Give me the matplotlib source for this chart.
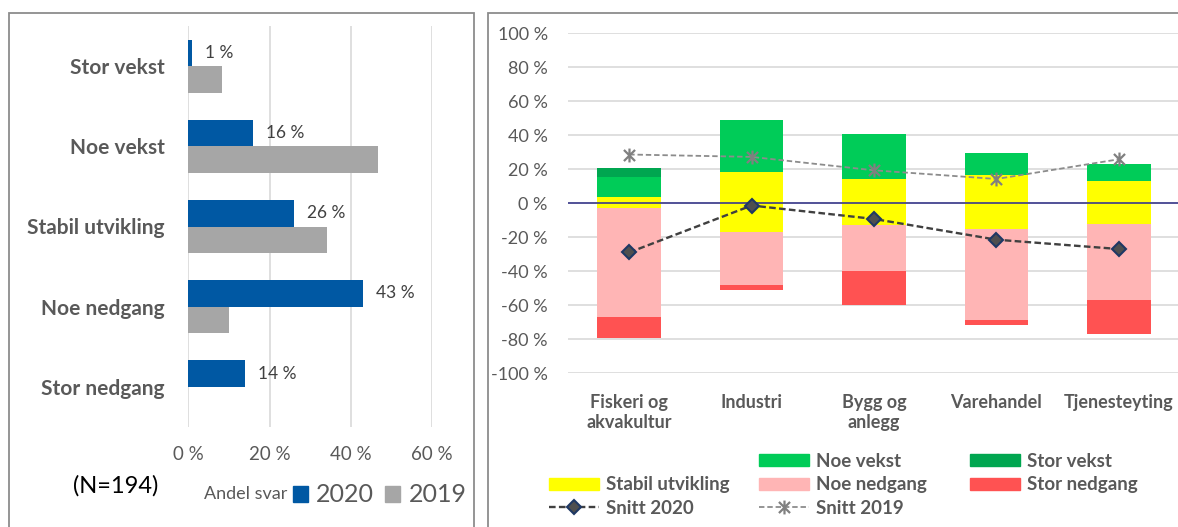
import matplotlib
matplotlib.use("Agg")
import numpy as np
from matplotlib import pyplot as plt
from matplotlib.patches import Rectangle, Patch
from matplotlib.lines import Line2D
from matplotlib.path import Path

plt.rcParams['font.family'] = ['Lato', 'DejaVu Sans']

# left panel: share of answers, 2020 vs 2019
answers = ['Stor vekst', 'Noe vekst', 'Stabil utvikling', 'Noe nedgang', 'Stor nedgang']
share_2020 = [1, 16, 26, 43, 14]
share_2019 = [8.4, 46.8, 34.2, 10.1, 0]
share_ticks = [0, 20, 40, 60]

# right panel: by industry (percent)
sectors = ['Fiskeri og\nakvakultur', 'Industri', 'Bygg og\nanlegg', 'Varehandel', 'Tjenesteyting']
stor_vekst = [5.3, 0, 0, 0, 0]
noe_vekst = [11.4, 30.4, 26.4, 12.4, 10.2]
stabil_over = [3.8, 18.4, 14.3, 16.9, 12.9]
stabil_under = [2.5, 16.9, 12.7, 14.9, 11.9]
noe_nedgang = [64.5, 30.9, 27.2, 53.6, 45.2]
stor_nedgang = [12.0, 3.4, 19.9, 2.9, 19.9]
snitt_2020 = [-28.9, -1.3, -9.2, -21.4, -26.9]
snitt_2019 = [28.7, 27.3, 19.4, 14.3, 25.9]
pct_ticks = [-100, -80, -60, -40, -20, 0, 20, 40, 60, 80, 100]

GRAY_TXT = '#595959'
GRID = '#D9D9D9'
W, H = 1178, 527

fig = plt.figure(figsize=(W / 100, H / 100), dpi=100)

def fx(px):
    return px / W

def fy(py):
    return 1 - py / H

# panel frames
fig.add_artist(Rectangle((fx(8.7), -0.01), fx(474.3 - 8.7), fy(12.7) + 0.01,
                         transform=fig.transFigure, fill=False, ec='#8C8C8C', lw=1.3))
fig.add_artist(Rectangle((fx(488.3), -0.01), 0.6, fy(12.7) + 0.01,
                         transform=fig.transFigure, fill=False, ec='#8C8C8C', lw=1.3))

# ---------- left chart ----------
ax1 = fig.add_axes([fx(188.3), fy(427), fx(432 - 188.3), (427 - 26) / H])
y = np.arange(len(answers))
bh = 0.33
ax1.barh(y - bh / 2, share_2020, height=bh, color='#0058A3', zorder=2)
ax1.barh(y + bh / 2, share_2019, height=bh, color='#A6A6A6', zorder=2)
for yi, v in zip(y, share_2020):
    ax1.annotate(f'{v:.0f} %', (v, yi - bh / 2), xytext=(9.4, 0), textcoords='offset points',
                 ha='left', va='center', fontsize=12.5, color='#404040')
ax1.set_xlim(0, 60)
ax1.set_ylim(len(answers) - 0.5, -0.5)
ax1.set_xticks(share_ticks)
ax1.set_xticklabels([f'{t} %' for t in share_ticks], fontsize=13.5, color=GRAY_TXT)
ax1.set_yticks(y)
ax1.set_yticklabels(answers, fontsize=15, fontweight='bold', color=GRAY_TXT)
ax1.tick_params(axis='x', length=0, pad=14)
ax1.tick_params(axis='y', length=0, pad=17)
ax1.grid(axis='x', color=GRID, lw=1.2, zorder=0)
ax1.set_axisbelow(True)
for s in ax1.spines.values():
    s.set_visible(False)

fig.text(fx(72.7), fy(486), '(N=194)', fontsize=17, color='black', ha='left', va='center')
fig.text(fx(287), fy(494), 'Andel svar', fontsize=13, color=GRAY_TXT, ha='right', va='center')
leg1 = fig.legend([Patch(color='#0058A3'), Patch(color='#A6A6A6')], ['2020', '2019'],
                  loc='center left', bbox_to_anchor=(fx(293), fy(495)), ncol=2,
                  frameon=False, fontsize=18, handlelength=0.6, handleheight=0.6,
                  handletextpad=0.33, columnspacing=0.44, borderpad=0, borderaxespad=0)
for t in leg1.get_texts():
    t.set_color(GRAY_TXT)

# ---------- right chart ----------
ax2 = fig.add_axes([fx(568), fy(373.3), fx(1180 - 568), (373.3 - 33.3) / H])
x = np.arange(len(sectors))
bw = 0.52
pos_bottom = np.zeros(len(sectors))
for vals, col in [(stabil_over, '#FFFF00'), (noe_vekst, '#00CC58'), (stor_vekst, '#00A650')]:
    ax2.bar(x, vals, bw, bottom=pos_bottom, color=col, zorder=2)
    pos_bottom += np.array(vals)
neg_bottom = np.zeros(len(sectors))
for vals, col in [(stabil_under, '#FFFF00'), (noe_nedgang, '#FFB5B5'), (stor_nedgang, '#FF5252')]:
    ax2.bar(x, -np.array(vals), bw, bottom=neg_bottom, color=col, zorder=2)
    neg_bottom -= np.array(vals)

ax2.axhline(0, color='#3A3A8C', lw=1.2, zorder=3)

star = Path([(-1, -1), (1, 1), (-1, 1), (1, -1), (0, -1.25), (0, 1.25)],
            [Path.MOVETO, Path.LINETO, Path.MOVETO, Path.LINETO, Path.MOVETO, Path.LINETO])
ax2.plot(x, snitt_2019, color='#8C8C8C', lw=1.3, ls=(0, (3, 1.6)), marker=star,
         ms=10, mec='#808080', mew=1.6, zorder=4)
ax2.plot(x, snitt_2020, color='#404040', lw=1.7, ls=(0, (2.8, 1.4)), marker='D',
         ms=7.5, mfc='#4F4F4F', mec='#1F3864', mew=1.5, zorder=5)

ax2.set_xlim(-0.5, len(sectors) - 0.5)
ax2.set_ylim(-100, 100)
ax2.set_yticks(pct_ticks)
ax2.set_yticklabels([f'{t} %' for t in pct_ticks], fontsize=13, color=GRAY_TXT)
ax2.set_xticks(x)
ax2.set_xticklabels(sectors, fontsize=13, fontweight='bold', color=GRAY_TXT, linespacing=1.2)
ax2.tick_params(axis='y', length=0, pad=14.5)
ax2.tick_params(axis='x', length=0, pad=15)
ax2.grid(axis='y', color=GRID, lw=1.2, zorder=0)
ax2.set_axisbelow(True)
for s in ax2.spines.values():
    s.set_visible(False)

# legend in three columns
blank = Patch(color='none')
h_stabil = Patch(color='#FFFF00')
h_noe_v = Patch(color='#00CC58')
h_stor_v = Patch(color='#00A650')
h_noe_n = Patch(color='#FFB5B5')
h_stor_n = Patch(color='#FF5252')
h_s20 = Line2D([], [], color='#404040', lw=1.7, ls=(0, (2.8, 1.4)), marker='D', ms=7.5,
               mfc='#4F4F4F', mec='#1F3864', mew=1.5)
h_s19 = Line2D([], [], color='#8C8C8C', lw=1.3, ls=(0, (3, 1.6)), marker=star, ms=10,
               mec='#808080', mew=1.6)
columns = [
    (549.3, [blank, h_stabil, h_s20], ['', 'Stabil utvikling', 'Snitt 2020']),
    (759.3, [h_noe_v, h_noe_n, h_s19], ['Noe vekst', 'Noe nedgang', 'Snitt 2019']),
    (970.0, [h_stor_v, h_stor_n], ['Stor vekst', 'Stor nedgang']),
]
fs_leg = 13.5
fs_px = fs_leg * 100 / 72
for xpos, hs, ls in columns:
    lg = fig.legend(hs, ls, loc='upper left', bbox_to_anchor=(fx(xpos), fy(453)),
                    frameon=False, fontsize=fs_leg, handlelength=50 / fs_px,
                    handleheight=0.59, handletextpad=7 / fs_px, labelspacing=0.34,
                    borderpad=0, borderaxespad=0)
    for t in lg.get_texts():
        t.set_color(GRAY_TXT)
        t.set_fontweight('bold')

fig.savefig('out.png', dpi=100)
